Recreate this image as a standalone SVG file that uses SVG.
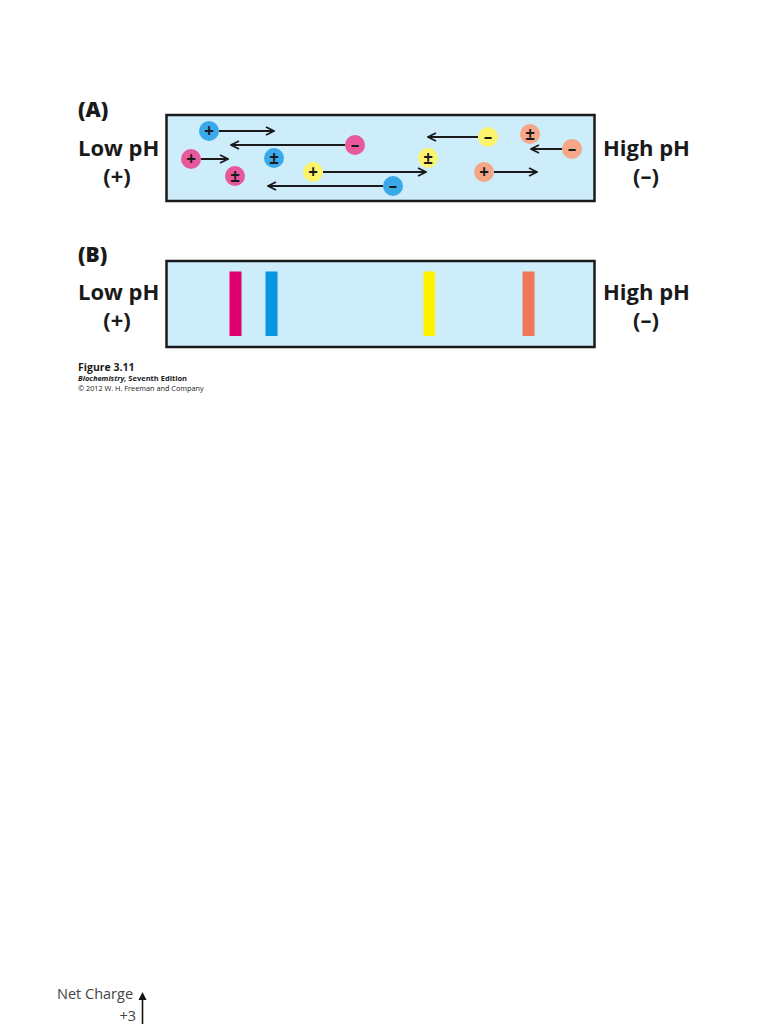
<svg xmlns="http://www.w3.org/2000/svg" width="768" height="1024" viewBox="0 0 768 1024">
<defs>
<marker id="ah" viewBox="0 0 10 10" refX="9" refY="5" markerWidth="10" markerHeight="10" markerUnits="userSpaceOnUse" orient="auto">
<path d="M1,1 L9,5 L1,9" fill="none" stroke="#1a1a1a" stroke-width="1.8"/>
</marker>
<style>
.box{fill:#cdedfb;stroke:#1a1a1a;stroke-width:2.5}
.lbl{font-family:"Open Sans","Liberation Sans",sans-serif;font-weight:700;font-size:22px;fill:#1a1a1a}
.pl{font-family:"Open Sans","Liberation Sans",sans-serif;font-weight:800;font-size:21px;fill:#1a1a1a}
.chg{font-family:"Open Sans","Liberation Sans",sans-serif;font-weight:700;font-size:17px;fill:#1a1a1a;text-anchor:middle}
.arr{stroke:#1a1a1a;stroke-width:2;fill:none;marker-end:url(#ah)}
.b{fill:#3aa9ea}.m{fill:#e8589c}.y{fill:#fbf46c}.s{fill:#f6a787}
.cap{font-family:"Open Sans","Liberation Sans",sans-serif;fill:#1a1a1a}
</style>
</defs>
<rect width="768" height="1024" fill="#fff"/>

<!-- Panel A -->
<text class="pl" x="78" y="117">(A)</text>
<text class="lbl" x="78" y="156">Low pH</text>
<text class="lbl" x="117" y="184" text-anchor="middle">(+)</text>
<text class="lbl" x="603" y="156">High pH</text>
<text class="lbl" x="646" y="184" text-anchor="middle">(–)</text>
<rect id="boxA" class="box" x="166.5" y="115" width="428" height="86"/>

<g id="connectors">
<line class="arr" x1="219" y1="131" x2="274" y2="131"/>
<line class="arr" x1="345" y1="145" x2="231" y2="145"/>
<line class="arr" x1="201" y1="159" x2="228" y2="159"/>
<line class="arr" x1="323" y1="172" x2="426" y2="172"/>
<line class="arr" x1="383" y1="186" x2="268" y2="186"/>
<line class="arr" x1="478" y1="137" x2="428" y2="137"/>
<line class="arr" x1="562" y1="149" x2="531" y2="149"/>
<line class="arr" x1="494" y1="172" x2="537" y2="172"/>
</g>

<g id="n1"><circle class="b" cx="209" cy="131" r="10"/><text class="chg" x="209" y="137">+</text></g>
<g id="n2"><circle class="m" cx="355" cy="145" r="10"/><text class="chg" x="355" y="151">–</text></g>
<g id="n3"><circle class="m" cx="191" cy="159" r="10"/><text class="chg" x="191" y="165">+</text></g>
<g id="n4"><circle class="b" cx="274" cy="158" r="10"/><text class="chg" x="274" y="164">±</text></g>
<g id="n5"><circle class="m" cx="235" cy="176" r="10"/><text class="chg" x="235" y="182">±</text></g>
<g id="n6"><circle class="y" cx="313" cy="172" r="10"/><text class="chg" x="313" y="178">+</text></g>
<g id="n7"><circle class="b" cx="393" cy="186" r="10"/><text class="chg" x="393" y="192">–</text></g>
<g id="n8"><circle class="y" cx="488" cy="137" r="10"/><text class="chg" x="488" y="143">–</text></g>
<g id="n9"><circle class="y" cx="428" cy="158" r="10"/><text class="chg" x="428" y="164">±</text></g>
<g id="n10"><circle class="s" cx="530" cy="134" r="10"/><text class="chg" x="530" y="140">±</text></g>
<g id="n11"><circle class="s" cx="572" cy="149" r="10"/><text class="chg" x="572" y="155">–</text></g>
<g id="n12"><circle class="s" cx="484" cy="172" r="10"/><text class="chg" x="484" y="178">+</text></g>

<!-- Panel B -->
<text class="pl" x="78" y="262">(B)</text>
<text class="lbl" x="78" y="300">Low pH</text>
<text class="lbl" x="117" y="328" text-anchor="middle">(+)</text>
<text class="lbl" x="603" y="300">High pH</text>
<text class="lbl" x="646" y="328" text-anchor="middle">(–)</text>
<rect id="boxB" class="box" x="166.5" y="261" width="428" height="86"/>
<rect x="229.5" y="271.5" width="12" height="64.5" fill="#e0006f"/>
<rect x="265.5" y="271.5" width="12" height="64.5" fill="#0895e1"/>
<rect x="423.5" y="271.5" width="11.5" height="64.5" fill="#fff200"/>
<rect x="522.5" y="271.5" width="12" height="64.5" fill="#f0785a"/>

<!-- caption -->
<text class="cap" x="78" y="371" font-size="10.5" font-weight="700">Figure 3.11</text>
<text class="cap" x="78" y="381" font-size="7.5" font-weight="700"><tspan font-style="italic">Biochemistry,</tspan> Seventh Edition</text>
<text class="cap" x="78" y="391" font-size="7.3">© 2012 W. H. Freeman and Company</text>

<!-- bottom -->
<text x="57" y="999" font-family="'Open Sans','Liberation Sans',sans-serif" font-size="14.5" fill="#444">Net Charge</text>
<text x="136" y="1021" font-family="'Open Sans','Liberation Sans',sans-serif" font-size="14.5" fill="#444" text-anchor="end">+3</text>
<line x1="142.5" y1="1024" x2="142.5" y2="998" stroke="#111" stroke-width="1.6"/>
<polygon points="142.5,992 146.5,1000 138.5,1000" fill="#111"/>
</svg>
